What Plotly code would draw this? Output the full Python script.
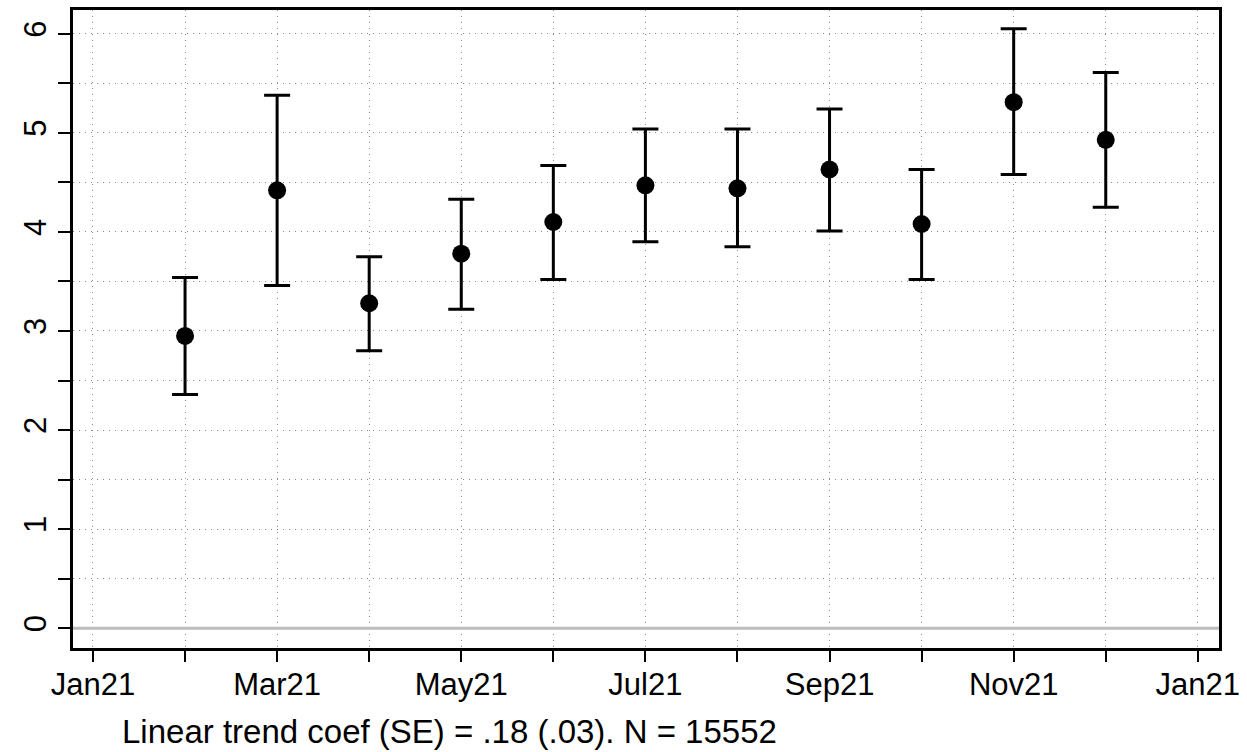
import plotly.graph_objects as go

months = ["Feb21", "Mar21", "Apr21", "May21", "Jun21", "Jul21", "Aug21", "Sep21", "Oct21", "Nov21", "Dec21"]
month_index = [1, 2, 3, 4, 5, 6, 7, 8, 9, 10, 11]
estimate = [2.95, 4.42, 3.28, 3.78, 4.10, 4.47, 4.44, 4.63, 4.08, 5.31, 4.93]
upper = [3.54, 5.38, 3.75, 4.33, 4.67, 5.04, 5.04, 5.24, 4.63, 6.05, 5.61]
lower = [2.36, 3.46, 2.80, 3.22, 3.52, 3.90, 3.85, 4.01, 3.52, 4.58, 4.25]

x_tickvals = list(range(0, 13))
x_ticktext = ["Jan21", "", "Mar21", "", "May21", "", "Jul21", "", "Sep21", "", "Nov21", "", "Jan21"]
y_tickvals = [i * 0.5 for i in range(0, 13)]
y_ticktext = [str(int(v)) if v == int(v) else "" for v in y_tickvals]
footer = "Linear trend coef (SE) = .18 (.03). N = 15552"

err_plus = [u - e for u, e in zip(upper, estimate)]
err_minus = [e - l for e, l in zip(estimate, lower)]

fig = go.Figure()
fig.add_shape(type="line", xref="paper", x0=0, x1=1, yref="y", y0=0, y1=0,
              line=dict(color="#bdbdbd", width=3), layer="above")
fig.add_trace(go.Scatter(
    x=month_index, y=estimate, mode="markers",
    marker=dict(color="black", size=18, symbol="circle"),
    error_y=dict(type="data", symmetric=False, array=err_plus, arrayminus=err_minus,
                 color="black", thickness=3, width=13),
    showlegend=False, hovertext=months,
))

font_family = "Liberation Sans, Arial, Helvetica, sans-serif"
grid = dict(showgrid=True, gridcolor="#8c8c8c", griddash="1px,5px", gridwidth=1)
fig.update_layout(
    width=1247, height=752,
    margin=dict(l=73, r=25, t=7, b=104),
    plot_bgcolor="white", paper_bgcolor="white",
    font=dict(family=font_family, size=31, color="black"),
    xaxis=dict(
        range=[-0.217, 12.23], tickmode="array", tickvals=x_tickvals, ticktext=x_ticktext,
        ticks="outside", ticklen=11, tickwidth=2, tickcolor="black",
        showline=True, linecolor="black", linewidth=2.5, mirror=True,
        zeroline=False, tickfont=dict(size=31), ticklabelstandoff=-4, **grid,
    ),
    yaxis=dict(
        range=[-0.2, 6.24], tickmode="array", tickvals=y_tickvals, ticktext=y_ticktext,
        ticks="outside", ticklen=12, tickwidth=2, tickcolor="black",
        showline=True, linecolor="black", linewidth=2.5, mirror=True,
        zeroline=False, tickangle=-90, tickfont=dict(size=31), **grid,
    ),
    annotations=[dict(text=footer, xref="paper", yref="paper", x=0.041, y=-0.131,
                      xanchor="left", yanchor="middle", showarrow=False,
                      font=dict(size=33, family=font_family))],
)

fig.write_html("out.html", config={"displayModeBar": False},
               post_script="document.body.style.margin='0';")
